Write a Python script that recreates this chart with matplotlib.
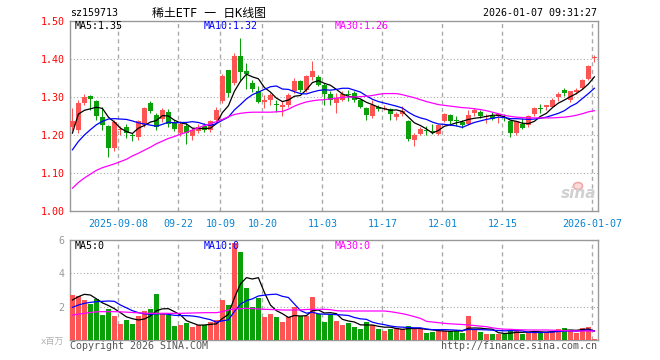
import numpy as np
import matplotlib
matplotlib.use('Agg')
import matplotlib.pyplot as plt
from matplotlib.patches import Ellipse

# daily K line of sz159713, 2025-08-27 .. 2026-01-07
opens = [1.221, 1.214, 1.284, 1.302, 1.290, 1.247, 1.223, 1.166, 1.213, 1.221,
         1.201, 1.195, 1.225, 1.284, 1.252, 1.242, 1.260, 1.233, 1.204, 1.224,
         1.198, 1.210, 1.224, 1.212, 1.240, 1.289, 1.370, 1.337, 1.409, 1.369,
         1.337, 1.317, 1.288, 1.291, 1.282, 1.275, 1.280, 1.315, 1.343, 1.318,
         1.353, 1.352, 1.332, 1.309, 1.284, 1.293, 1.307, 1.311, 1.293, 1.271,
         1.251, 1.275, 1.269, 1.268, 1.247, 1.255, 1.238, 1.188, 1.203, 1.214,
         1.209, 1.203, 1.236, 1.253, 1.239, 1.233, 1.230, 1.258, 1.260, 1.248,
         1.251, 1.249, 1.246, 1.236, 1.204, 1.228, 1.225, 1.254, 1.272, 1.274,
         1.275, 1.299, 1.318, 1.291, 1.312, 1.324, 1.348, 1.402]
highs = [1.271, 1.293, 1.309, 1.304, 1.292, 1.275, 1.226, 1.240, 1.223, 1.230,
         1.205, 1.240, 1.275, 1.290, 1.258, 1.272, 1.268, 1.240, 1.236, 1.232,
         1.218, 1.228, 1.232, 1.240, 1.275, 1.360, 1.372, 1.416, 1.454, 1.389,
         1.346, 1.328, 1.304, 1.310, 1.293, 1.289, 1.310, 1.350, 1.346, 1.358,
         1.396, 1.359, 1.337, 1.315, 1.311, 1.315, 1.319, 1.315, 1.296, 1.274,
         1.293, 1.280, 1.280, 1.272, 1.260, 1.277, 1.240, 1.206, 1.222, 1.223,
         1.230, 1.229, 1.258, 1.256, 1.249, 1.240, 1.267, 1.271, 1.267, 1.254,
         1.260, 1.258, 1.256, 1.236, 1.238, 1.245, 1.252, 1.275, 1.282, 1.280,
         1.297, 1.312, 1.325, 1.317, 1.324, 1.348, 1.384, 1.410]
lows = [1.214, 1.205, 1.280, 1.267, 1.240, 1.214, 1.142, 1.157, 1.201, 1.192,
        1.183, 1.188, 1.220, 1.258, 1.212, 1.235, 1.220, 1.210, 1.198, 1.176,
        1.188, 1.205, 1.207, 1.208, 1.236, 1.285, 1.300, 1.332, 1.346, 1.321,
        1.314, 1.284, 1.271, 1.280, 1.260, 1.249, 1.274, 1.310, 1.312, 1.314,
        1.346, 1.328, 1.280, 1.280, 1.258, 1.289, 1.289, 1.288, 1.271, 1.240,
        1.245, 1.262, 1.267, 1.240, 1.240, 1.250, 1.184, 1.172, 1.200, 1.200,
        1.203, 1.200, 1.233, 1.225, 1.223, 1.218, 1.225, 1.249, 1.245, 1.232,
        1.240, 1.232, 1.236, 1.195, 1.200, 1.216, 1.222, 1.251, 1.258, 1.265,
        1.274, 1.289, 1.302, 1.286, 1.309, 1.320, 1.346, 1.391]
closes = [1.238, 1.284, 1.299, 1.295, 1.249, 1.225, 1.166, 1.234, 1.216, 1.205,
          1.197, 1.236, 1.270, 1.263, 1.222, 1.266, 1.228, 1.215, 1.230, 1.206,
          1.212, 1.222, 1.214, 1.236, 1.267, 1.356, 1.311, 1.407, 1.366, 1.361,
          1.321, 1.287, 1.291, 1.306, 1.279, 1.278, 1.305, 1.341, 1.319, 1.354,
          1.369, 1.331, 1.309, 1.293, 1.297, 1.309, 1.304, 1.291, 1.275, 1.252,
          1.280, 1.268, 1.272, 1.254, 1.256, 1.262, 1.190, 1.200, 1.216, 1.210,
          1.207, 1.227, 1.254, 1.236, 1.237, 1.225, 1.253, 1.267, 1.249, 1.250,
          1.242, 1.254, 1.244, 1.205, 1.236, 1.218, 1.249, 1.272, 1.269, 1.278,
          1.293, 1.309, 1.310, 1.315, 1.319, 1.346, 1.382, 1.405]
volumes = [2.70, 2.64, 2.40, 2.16, 2.46, 1.50, 1.84, 1.44, 0.96, 1.20,
           0.96, 1.44, 1.74, 1.86, 2.76, 1.54, 1.50, 0.84, 0.90, 1.04,
           0.80, 0.88, 0.88, 1.10, 1.20, 2.40, 2.10, 5.84, 5.28, 3.10,
           1.96, 2.54, 1.36, 1.56, 1.36, 1.10, 1.36, 1.96, 1.44, 1.44,
           2.58, 1.56, 1.10, 1.50, 1.16, 0.90, 1.04, 0.80, 0.64, 1.10,
           0.90, 0.64, 0.56, 0.64, 0.70, 0.64, 0.84, 0.64, 0.64, 0.44,
           0.50, 0.56, 0.56, 0.56, 0.56, 0.44, 1.44, 0.60, 0.50, 0.36,
           0.36, 0.36, 0.36, 0.60, 0.60, 0.36, 0.50, 0.50, 0.50, 0.50,
           0.50, 0.64, 0.74, 0.60, 0.44, 0.74, 0.80, 0.08]

# moving average lines as shown on the chart
ma5 = [1.205, 1.255, 1.265, 1.269, 1.273, 1.270, 1.247, 1.234, 1.218, 1.209,
       1.204, 1.218, 1.225, 1.234, 1.238, 1.251, 1.250, 1.239, 1.232, 1.229,
       1.218, 1.217, 1.217, 1.218, 1.230, 1.259, 1.277, 1.315, 1.341, 1.360,
       1.353, 1.348, 1.325, 1.313, 1.297, 1.288, 1.292, 1.302, 1.304, 1.319,
       1.338, 1.343, 1.336, 1.331, 1.320, 1.308, 1.302, 1.299, 1.295, 1.286,
       1.280, 1.273, 1.269, 1.265, 1.266, 1.262, 1.247, 1.232, 1.225, 1.216,
       1.205, 1.212, 1.223, 1.227, 1.232, 1.236, 1.241, 1.244, 1.246, 1.249,
       1.252, 1.252, 1.248, 1.239, 1.236, 1.231, 1.230, 1.236, 1.249, 1.257,
       1.272, 1.284, 1.292, 1.301, 1.309, 1.320, 1.334, 1.353]
ma10 = [1.161, 1.183, 1.200, 1.214, 1.227, 1.236, 1.242, 1.243, 1.242, 1.241,
        1.237, 1.232, 1.229, 1.226, 1.223, 1.228, 1.234, 1.232, 1.233, 1.233,
        1.235, 1.233, 1.228, 1.225, 1.230, 1.239, 1.247, 1.266, 1.280, 1.295,
        1.306, 1.313, 1.320, 1.327, 1.329, 1.321, 1.320, 1.314, 1.309, 1.308,
        1.313, 1.317, 1.319, 1.318, 1.320, 1.323, 1.323, 1.318, 1.313, 1.303,
        1.294, 1.288, 1.284, 1.280, 1.276, 1.271, 1.260, 1.251, 1.245, 1.241,
        1.234, 1.229, 1.228, 1.226, 1.224, 1.220, 1.227, 1.233, 1.237, 1.241,
        1.244, 1.247, 1.246, 1.243, 1.243, 1.242, 1.241, 1.242, 1.244, 1.247,
        1.252, 1.257, 1.264, 1.275, 1.283, 1.296, 1.309, 1.323]
ma30 = [1.060, 1.075, 1.087, 1.097, 1.107, 1.114, 1.119, 1.124, 1.130, 1.136,
        1.145, 1.152, 1.160, 1.168, 1.177, 1.184, 1.191, 1.196, 1.202, 1.207,
        1.213, 1.219, 1.225, 1.230, 1.235, 1.241, 1.248, 1.254, 1.257, 1.259,
        1.260, 1.260, 1.260, 1.260, 1.261, 1.262, 1.268, 1.276, 1.282, 1.287,
        1.290, 1.292, 1.293, 1.295, 1.297, 1.299, 1.300, 1.300, 1.301, 1.302,
        1.304, 1.307, 1.309, 1.309, 1.309, 1.306, 1.302, 1.298, 1.293, 1.288,
        1.284, 1.280, 1.278, 1.276, 1.274, 1.272, 1.271, 1.269, 1.267, 1.264,
        1.260, 1.256, 1.252, 1.249, 1.247, 1.246, 1.245, 1.245, 1.245, 1.245,
        1.245, 1.246, 1.247, 1.249, 1.252, 1.256, 1.261, 1.264]
vol_ma5 = [2.40, 2.60, 2.74, 2.70, 2.47, 2.23, 2.07, 1.88, 1.64, 1.39,
           1.28, 1.20, 1.26, 1.44, 1.75, 1.87, 1.88, 1.70, 1.51, 1.16,
           1.02, 0.89, 0.90, 0.94, 0.97, 1.29, 1.54, 2.53, 3.36, 3.74,
           3.66, 3.74, 2.85, 2.10, 1.76, 1.58, 1.35, 1.47, 1.44, 1.46,
           1.76, 1.80, 1.62, 1.64, 1.58, 1.24, 1.14, 1.08, 0.91, 0.90,
           0.90, 0.82, 0.77, 0.77, 0.69, 0.64, 0.68, 0.69, 0.69, 0.64,
           0.61, 0.56, 0.54, 0.52, 0.55, 0.54, 0.71, 0.72, 0.71, 0.67,
           0.65, 0.44, 0.39, 0.41, 0.46, 0.46, 0.48, 0.51, 0.49, 0.47,
           0.50, 0.53, 0.58, 0.60, 0.58, 0.63, 0.66, 0.53]
vol_ma10 = [1.96, 2.10, 2.20, 2.26, 2.30, 2.32, 2.34, 2.32, 2.10, 1.93,
            1.76, 1.64, 1.57, 1.54, 1.57, 1.57, 1.54, 1.48, 1.47, 1.46,
            1.44, 1.39, 1.30, 1.22, 1.07, 1.15, 1.21, 1.71, 2.15, 2.36,
            2.47, 2.64, 2.69, 2.73, 2.75, 2.62, 2.55, 2.16, 1.77, 1.61,
            1.67, 1.57, 1.55, 1.54, 1.52, 1.50, 1.47, 1.35, 1.27, 1.24,
            1.07, 0.98, 0.92, 0.84, 0.79, 0.77, 0.75, 0.73, 0.73, 0.66,
            0.62, 0.62, 0.62, 0.61, 0.59, 0.57, 0.63, 0.63, 0.62, 0.61,
            0.59, 0.57, 0.55, 0.56, 0.56, 0.55, 0.46, 0.45, 0.45, 0.46,
            0.48, 0.51, 0.54, 0.54, 0.53, 0.57, 0.60, 0.55]
vol_ma30 = [1.50, 1.55, 1.60, 1.65, 1.69, 1.70, 1.70, 1.70, 1.69, 1.67,
            1.65, 1.63, 1.61, 1.60, 1.60, 1.60, 1.60, 1.60, 1.60, 1.61,
            1.62, 1.63, 1.64, 1.64, 1.64, 1.70, 1.80, 1.86, 1.88, 1.90,
            1.89, 1.86, 1.84, 1.83, 1.82, 1.80, 1.80, 1.80, 1.81, 1.83,
            1.84, 1.84, 1.84, 1.82, 1.76, 1.74, 1.74, 1.74, 1.74, 1.74,
            1.74, 1.74, 1.74, 1.70, 1.64, 1.58, 1.50, 1.40, 1.30, 1.12,
            1.08, 1.04, 1.00, 0.97, 0.95, 0.93, 0.90, 0.87, 0.83, 0.80,
            0.73, 0.68, 0.65, 0.64, 0.62, 0.61, 0.60, 0.60, 0.60, 0.60,
            0.59, 0.57, 0.56, 0.55, 0.54, 0.54, 0.54, 0.54]

date_pos = [8, 18, 25, 32, 42, 52, 62, 72, 87]
date_labels = ['2025-09-08', '09-22', '10-09', '10-20', '11-03', '11-17',
               '12-01', '12-15', '2026-01-07']
price_ticks = [1.00, 1.10, 1.20, 1.30, 1.40, 1.50]
vol_ticks = [2, 4, 6]

RED = '#ff5454'
GREEN = '#0aa00a'
GRID = '#aaaaaa'
MONO = ['DejaVu Sans Mono', 'Noto Sans CJK SC']
FS = 7.2

plt.rcParams['font.family'] = MONO

o = np.array(opens)
c = np.array(closes)
x = np.arange(len(c))
colors = np.where(c >= o, RED, GREEN)

fig = plt.figure(figsize=(6.6, 3.6), dpi=100)
ax = fig.add_axes([70 / 660, 1 - 211 / 360, 528 / 660, 190 / 360])
axv = fig.add_axes([70 / 660, 1 - 340 / 360, 528 / 660, 100 / 360])

# candles
ax.vlines(x, lows, highs, colors=colors, lw=0.75, zorder=3)
body_lo = np.minimum(o, c)
body_h = np.maximum(np.abs(c - o), 0.0026)
ax.bar(x, body_h, 0.75, bottom=body_lo, color=colors, lw=0, zorder=3)

ax.plot(x, ma5, color='black', lw=0.9, zorder=4)
ax.plot(x, ma10, color='#0000ff', lw=0.9, zorder=4)
ax.plot(x, ma30, color='#ff00ff', lw=0.9, zorder=4)

# volume
axv.bar(x, volumes, 0.82, color=colors, lw=0, zorder=3)
axv.plot(x, vol_ma5, color='black', lw=0.9, zorder=4)
axv.plot(x, vol_ma10, color='#0000ff', lw=0.9, zorder=4)
axv.plot(x, vol_ma30, color='#ff00ff', lw=0.9, zorder=4)

grid_x = [p - 0.35 for p in date_pos]
for a in (ax, axv):
    a.set_xlim(-0.4, 87.6)
    for gx in grid_x:
        a.axvline(gx, color=GRID, ls=(0, (3, 2.5)), lw=1.0, zorder=1)
    for s in a.spines.values():
        s.set_color('#999999')
        s.set_linewidth(1.0)
    a.tick_params(length=0)

ax.set_ylim(1.0, 1.5)
for p in price_ticks[1:-1]:
    ax.axhline(p, color=GRID, ls=(0, (1, 2)), lw=0.8, zorder=1)
ax.set_yticks(price_ticks, [f'{p:.2f}' for p in price_ticks])
ax.tick_params(axis='y', labelcolor='#ff0000', labelsize=FS, pad=4)
ax.set_xticks(grid_x, date_labels)
ax.tick_params(axis='x', labelcolor='#0a84d0', labelsize=FS, pad=6)

axv.set_ylim(0, 6)
for v in vol_ticks[:-1]:
    axv.axhline(v, color=GRID, ls=(0, (1, 2)), lw=0.8, zorder=1)
axv.set_yticks(vol_ticks, [str(v) for v in vol_ticks])
axv.tick_params(axis='y', labelcolor='#999999', labelsize=FS, pad=4)
axv.set_xticks([])

# legends
ax.text(0.0095, 0.974, 'MA5:1.35', transform=ax.transAxes, va='center', fontsize=FS, color='black')
ax.text(0.254, 0.974, 'MA10:1.32', transform=ax.transAxes, va='center', fontsize=FS, color='#0000ff')
ax.text(0.502, 0.974, 'MA30:1.26', transform=ax.transAxes, va='center', fontsize=FS, color='#ff00ff')
axv.text(0.0095, 0.94, 'MA5:0', transform=axv.transAxes, va='center', fontsize=FS, color='black', zorder=5)
axv.text(0.254, 0.94, 'MA10:0', transform=axv.transAxes, va='center', fontsize=FS, color='#0000ff', zorder=5)
axv.text(0.502, 0.94, 'MA30:0', transform=axv.transAxes, va='center', fontsize=FS, color='#ff00ff', zorder=5)

# header and footer
fig.text(70 / 660, 1 - 13 / 360, 'sz159713', va='center', fontsize=FS)
fig.text(209 / 660, 1 - 13 / 360, '稀土ETF 一 日K线图', ha='center', va='center', fontsize=8.6)
fig.text(597 / 660, 1 - 13 / 360, '2026-01-07 09:31:27', ha='right', va='center', fontsize=FS)
fig.text(70 / 660, 1 - 346 / 360, 'Copyright 2026 SINA.COM', va='center', fontsize=FS, color='#555555')
fig.text(597 / 660, 1 - 346 / 360, 'http://finance.sina.com.cn', ha='right', va='center', fontsize=FS, color='#555555')
fig.text(64 / 660, 1 - 341 / 360, 'x百万', ha='right', va='center', fontsize=6.5, color='#b0b0b0')

# sina watermark
fig.text(579 / 660, 1 - 194 / 360, 'sina', ha='center', va='center', fontsize=11,
         style='italic', weight='bold', color='#d0d0d0', family='DejaVu Sans')
fig.patches.append(Ellipse((578 / 660, 1 - 186 / 360), 9 / 660, 7 / 360, transform=fig.transFigure,
                           fill=True, fc='#fbdada', ec='#f2a8a8', lw=1.2))

fig.savefig('out.png', dpi=100)
